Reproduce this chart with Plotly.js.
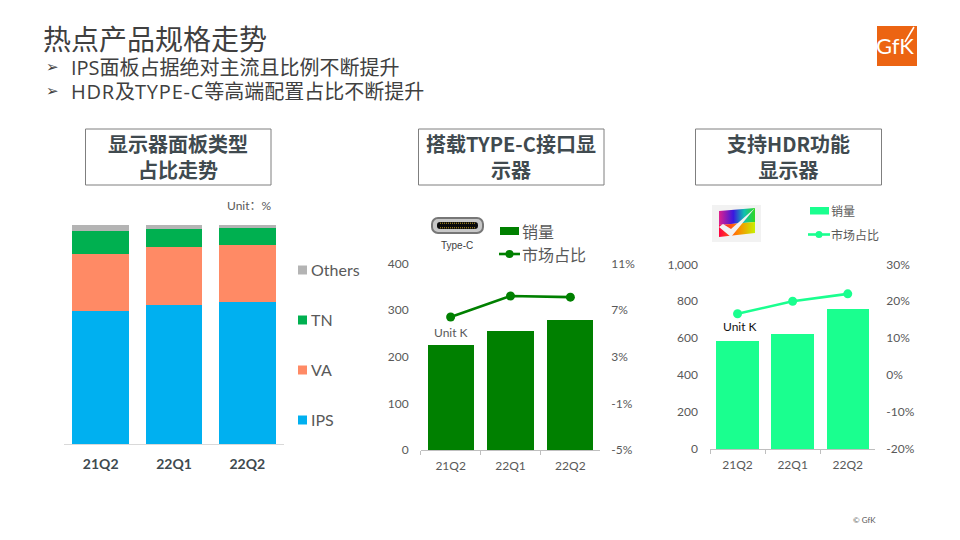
<!DOCTYPE html>
<html><head><meta charset="utf-8">
<script src="https://cdn.plot.ly/plotly-3.0.1.min.js"></script>
<style>html,body{margin:0;padding:0;background:#fff}#c{width:960px;height:540px}</style>
</head><body><div id="c"></div>
<script>
const quarters = ['21Q2','22Q1','22Q2'];
const ips = [60.7,63.3,64.5];
const va = [25.8,26.4,26.2];
const tn = [10.5,8.2,7.6];
const others = [3.0,2.1,1.7];
const typecSales = [225,255,278];
const typecShare = [6.4,8.2,8.1];
const hdrSales = [585,621,756];
const hdrShare = [16.6,20.0,22.0];
const typecLeftTicks = [0,100,200,300,400];
const typecRightTicks = [-5,-1,3,7,11];
const typecRightLabels = ['-5%','-1%','3%','7%','11%'];
const hdrLeftTicks = [0,200,400,600,800,1000];
const hdrLeftLabels = ['0','200','400','600','800','1,000'];
const hdrRightTicks = [-20,-10,0,10,20,30];
const hdrRightLabels = ['-20%','-10%','0%','10%','20%','30%'];

const CJK = '"Noto Sans CJK SC","Lato",sans-serif';
const HEAD = '"Open Sans","Noto Sans CJK SC",sans-serif';
const LATO = 'Lato,"Noto Sans CJK SC",sans-serif';
const TXT = '#595959', DARK = '#404a4f';
const C_IPS='#00B0F0', C_VA='#FF8A65', C_TN='#00B050', C_OT='#B4B4B4', C_G='#008000', C_S='#1AFF8F';
const fx = p => p/960, fy = p => 1-p/540;

function stack(y,name,color){return {type:'bar',x:quarters,y,name,marker:{color},width:0.77,xaxis:'x',yaxis:'y',showlegend:false,hoverinfo:'y+name'};}
const traces = [
  stack(ips,'IPS',C_IPS),stack(va,'VA',C_VA),stack(tn,'TN',C_TN),stack(others,'Others',C_OT),
  {type:'bar',x:quarters,y:typecSales,name:'销量',marker:{color:C_G},width:0.77,xaxis:'x2',yaxis:'y2',showlegend:false},
  {type:'scatter',mode:'lines+markers',x:quarters,y:typecShare,name:'市场占比',line:{color:C_G,width:2.6},marker:{color:C_G,size:9},xaxis:'x2',yaxis:'y3',showlegend:false},
  {type:'bar',x:quarters,y:hdrSales,name:'销量',marker:{color:C_S},width:0.77,xaxis:'x3',yaxis:'y4',showlegend:false},
  {type:'scatter',mode:'lines+markers',x:quarters,y:hdrShare,name:'市场占比',line:{color:C_S,width:2.6},marker:{color:C_S,size:9},xaxis:'x3',yaxis:'y5',showlegend:false}
];

function xax(l,r,anchor,extra){return Object.assign({domain:[fx(l),fx(r)],anchor,type:'category',fixedrange:true,showgrid:false,zeroline:false,
  showline:true,linecolor:'#BFBFBF',linewidth:1,tickson:'boundaries',ticks:'outside',ticklen:4,tickcolor:'#BFBFBF',ticklabelstandoff:5,
  tickfont:{family:LATO,size:12,color:TXT}},extra||{});}
function yax(t,b,anchor,range,vals,labels,opts){return Object.assign({domain:[fy(b),fy(t)],anchor,range,fixedrange:true,showgrid:false,zeroline:false,
  showline:false,ticks:'',tickmode:'array',tickvals:vals,ticktext:labels,tickfont:{family:LATO,size:12,color:TXT},ticklabelstandoff:11},opts||{});}

const ann = [];
function T(x,y,text,size,color,anchor,extra){ann.push(Object.assign({xref:'paper',yref:'paper',x:fx(x),y:fy(y),text,showarrow:false,
  xanchor:anchor||'left',yanchor:'middle',align:anchor||'left',font:{family:CJK,size,color},borderpad:0,borderwidth:0},extra||{}));}
const fnt = (f,s,c)=>({font:{family:f,size:s,color:c}});
const spaced = s => '<span style="letter-spacing:0.8px">'+s+'</span>';

T(43,38,'热点产品规格走势',28,'#404040');
T(46,67,'➢',15,'#404040','left',fnt('"DejaVu Sans"',15,'#404040'));
T(46,91,'➢',15,'#404040','left',fnt('"DejaVu Sans"',15,'#404040'));
T(71,67,'IPS面板占据绝对主流且比例不断提升',20,'#404040','left',fnt(HEAD,20,'#404040'));
T(71,91,spaced('HDR')+'及'+spaced('TYPE-C')+'等高端配置占比不断提升',20,'#404040','left',fnt(HEAD,20,'#404040'));
T(178,156.5,'<b>显示器面板类型<br>占比走势</b>',20,DARK,'center');
T(511,156.5,'<b>搭载TYPE-C接口显<br>示器</b>',20,DARK,'center');
T(788.5,156.5,'<b>支持HDR功能<br>显示器</b>',20,DARK,'center');
T(227,205,'Unit：%',12,TXT,'left',fnt(LATO,12,TXT));
T(451,332,'Unit K',12,TXT,'center',fnt(LATO,12,TXT));
T(740,326,'Unit K',12,'#111','center',fnt(LATO,12,'#111'));
T(457,245,'Type-C',10,'#404040','center',fnt('"Liberation Sans"',10,'#404040'));
['Others','TN','VA','IPS'].forEach((n,i)=>T(311,269+50*i,n,16,TXT,'left',fnt(LATO,16,TXT)));
T(522,231,'销量',16,TXT); T(522,254,'市场占比',16,TXT);
T(831,210.5,'销量',12,TXT); T(831,235,'市场占比',12,TXT);
T(895,46,'GfK',22,'#fff','center',fnt(LATO,22,'#fff'));
T(853,520,'© GfK',8,TXT,'left',fnt(LATO,8,TXT));

const shapes = [];
function box(l,t,r,b,fill,line){shapes.push({type:'rect',xref:'paper',yref:'paper',x0:fx(l),x1:fx(r),y0:fy(b),y1:fy(t),fillcolor:fill||'rgba(0,0,0,0)',line:{color:line||'rgba(0,0,0,0)',width:line?1:0}});}
box(85.5,129,271,185,null,'#7F7F7F');box(418.5,129,604,185,null,'#7F7F7F');box(695.5,129,881.5,185,null,'#7F7F7F');
[C_OT,C_TN,C_VA,C_IPS].forEach((c,i)=>box(298,265.5+50*i,307,274.5+50*i,c));
box(500,227,519,235,C_G);box(810,207,829,214.5,C_S);
function keyLine(a,b,y,c,r){shapes.push({type:'line',xref:'paper',yref:'paper',x0:fx(a),x1:fx(b),y0:fy(y),y1:fy(y),line:{color:c,width:2.6}});
  shapes.push({type:'circle',xref:'paper',yref:'paper',x0:fx((a+b)/2-r),x1:fx((a+b)/2+r),y0:fy(y+r),y1:fy(y-r),fillcolor:c,line:{width:0}});}
keyLine(499,520,254,C_G,4);keyLine(808,830,234.5,C_S,3.5);
box(877,26,917,66,'#EC6412');
shapes.push({type:'line',xref:'paper',yref:'paper',x0:fx(905),x1:fx(914),y0:fy(42),y1:fy(27),line:{color:'#fff',width:1.5}});

const typeC = `<svg xmlns="http://www.w3.org/2000/svg" width="53" height="17"><rect x="1" y="1" width="51" height="15" rx="6" fill="#C8C8C8" stroke="#777" stroke-width="2"/><rect x="6" y="5" width="41" height="7" rx="3.2" fill="#0a0a0a"/><line x1="9" y1="6.2" x2="44" y2="6.2" stroke="#C9A227" stroke-dasharray="1 1"/><line x1="9" y1="10.8" x2="44" y2="10.8" stroke="#C9A227" stroke-dasharray="1 1"/></svg>`;
const hdr = `<svg xmlns="http://www.w3.org/2000/svg" width="49" height="37"><defs><linearGradient id="a" x1="0" y1="0" x2="1" y2="0"><stop offset="0" stop-color="#E0208C"/><stop offset=".4" stop-color="#3A18E0"/><stop offset=".7" stop-color="#10C0B0"/><stop offset="1" stop-color="#30D820"/></linearGradient><linearGradient id="b" x1="0" y1="0" x2="1" y2="0"><stop offset="0" stop-color="#FF0040"/><stop offset=".5" stop-color="#FF8000"/><stop offset="1" stop-color="#C8F000"/></linearGradient></defs><rect width="49" height="37" fill="#F2F2F2"/><path d="M7 6L43 3V17L7 20Z" fill="url(#a)"/><path d="M7 20L43 17V28L7 32Z" fill="url(#b)"/><path d="M7 22L19 32L43 3L19 24L11 19Z" fill="#F2F2F2"/></svg>`;
const uri = s => 'data:image/svg+xml;charset=utf-8,'+encodeURIComponent(s);
const images = [
 {source:uri(typeC),xref:'paper',yref:'paper',x:fx(431),y:fy(217),sizex:53/960,sizey:17/540,xanchor:'left',yanchor:'top',sizing:'stretch'},
 {source:uri(hdr),xref:'paper',yref:'paper',x:fx(712),y:fy(205),sizex:49/960,sizey:37/540,xanchor:'left',yanchor:'top',sizing:'stretch'}
];

const layout = {
  width:960,height:540,margin:{l:0,r:0,t:0,b:0},paper_bgcolor:'#fff',plot_bgcolor:'rgba(0,0,0,0)',
  barmode:'stack',showlegend:false,annotations:ann,shapes,images,
  xaxis:xax(64,284,'y',{linecolor:'#D9D9D9',ticks:'',ticklabelstandoff:7,tickfont:{family:LATO,size:14,color:DARK,weight:700}}),
  yaxis:yax(224.5,444,'x',[0,100],[],[],{showticklabels:false}),
  xaxis2:xax(420.7,600.3,'y2'),
  yaxis2:yax(263.3,450,'x2',[0,400],typecLeftTicks,typecLeftTicks.map(String)),
  yaxis3:yax(263.3,450,'x2',[-5,11],typecRightTicks,typecRightLabels,{overlaying:'y2',side:'right',ticklabelstandoff:10}),
  xaxis3:xax(710,875.3,'y4'),
  yaxis4:yax(264.3,449,'x3',[0,1000],hdrLeftTicks,hdrLeftLabels),
  yaxis5:yax(264.3,449,'x3',[-20,30],hdrRightTicks,hdrRightLabels,{overlaying:'y4',side:'right',ticklabelstandoff:10})
};
Plotly.newPlot('c',traces,layout,{displayModeBar:false,staticPlot:true});
</script></body></html>
